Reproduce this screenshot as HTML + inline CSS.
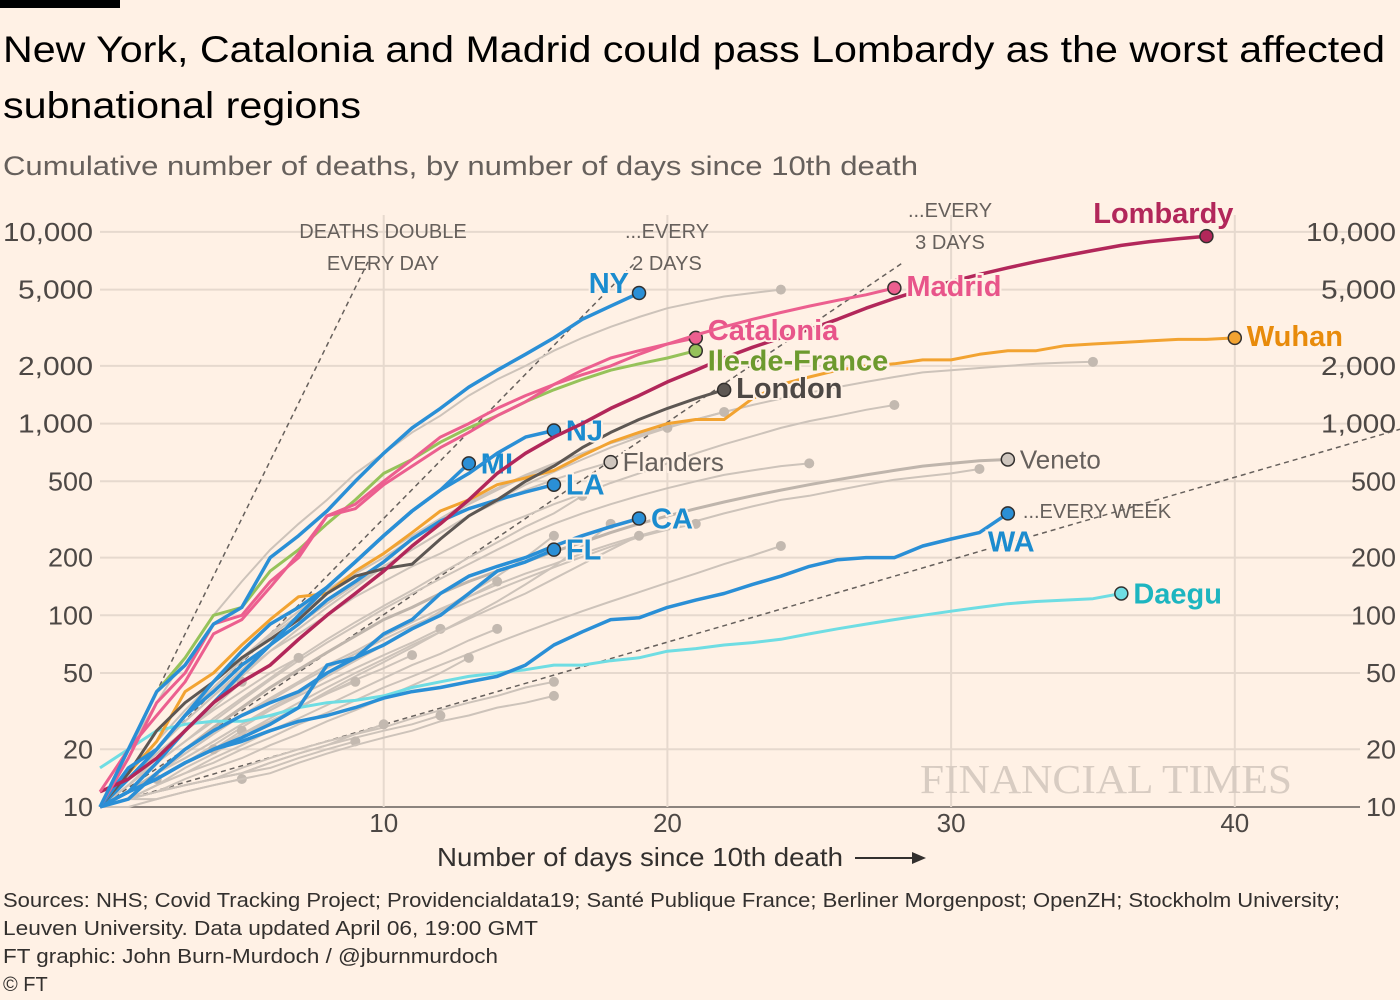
<!DOCTYPE html>
<html><head><meta charset="utf-8"><style>
html,body{margin:0;padding:0;background:#fff1e5;}
body{width:1400px;height:1000px;overflow:hidden;position:relative;font-family:"Liberation Sans","DejaVu Sans",sans-serif;color:#33302e;}
svg{position:absolute;left:0;top:0;}
</style></head><body>
<svg id="chart" width="1400" height="1000" viewBox="0 0 1400 1000">
<rect x="0" y="0" width="120" height="8" fill="#000"/>
<text font-size="37" fill="#000" x="3" y="62" textLength="1382" lengthAdjust="spacingAndGlyphs">New York, Catalonia and Madrid could pass Lombardy as the worst affected</text>
<text font-size="37" fill="#000" x="3" y="118" textLength="358" lengthAdjust="spacingAndGlyphs">subnational regions</text>
<text font-size="27" fill="#66605c" x="3" y="175" textLength="915" lengthAdjust="spacingAndGlyphs">Cumulative number of deaths, by number of days since 10th death</text>
<g id="grid"></g>
<text x="920" y="793" font-family="Liberation Serif,serif" font-size="41" fill="#d8ccc2" textLength="372" lengthAdjust="spacingAndGlyphs">FINANCIAL TIMES</text>
<g id="refs"></g>
<g id="greys"></g>
<g id="series"></g>
<text x="437" y="866" font-size="26" fill="#33302e" textLength="406" lengthAdjust="spacingAndGlyphs">Number of days since 10th death</text>
<line x1="855" y1="858" x2="918" y2="858" stroke="#33302e" stroke-width="2"/>
<path d="M912,852 L926,858 L912,864 Z" fill="#33302e"/>
<g font-size="20" fill="#33302e">
<text x="3" y="907" textLength="1337" lengthAdjust="spacingAndGlyphs">Sources: NHS; Covid Tracking Project; Providencialdata19; Santé Publique France; Berliner Morgenpost; OpenZH; Stockholm University;</text>
<text x="3" y="935" textLength="535" lengthAdjust="spacingAndGlyphs">Leuven University. Data updated April 06, 19:00 GMT</text>
<text x="3" y="963" textLength="495" lengthAdjust="spacingAndGlyphs">FT graphic: John Burn-Murdoch / @jburnmurdoch</text>
<text x="3" y="991">© FT</text>
</g>
</svg>
<script>
const NS='http://www.w3.org/2000/svg';
const yTicks=[10,20,50,100,200,500,1000,2000,5000,10000];
const yTickLabels=['10','20','50','100','200','500','1,000','2,000','5,000','10,000'];
const xTicks=[10,20,30,40];
const refDoublings=[1,2,3,7];
const refLabels=[['DEATHS DOUBLE','EVERY DAY'],['...EVERY','2 DAYS'],['...EVERY','3 DAYS'],['...EVERY WEEK']];
const nyValues=[10,20,40,55,90,110,200,260,350,500,700,950,1200,1550,1900,2300,2800,3500,4100,4800];
const lombardyValues=[12,14,18,25,35,45,55,75,100,130,170,230,300,400,550,700,850,1000,1200,1400,1650,1900,2200,2500,2800,3100,3500,4000,4500,5000,5500,6000,6500,7000,7500,8000,8500,8900,9200,9500];
const madridValues=[10,18,35,50,90,100,150,200,330,380,500,650,850,1000,1200,1400,1600,1800,2000,2300,2600,2900,3200,3500,3800,4100,4400,4700,5100];
const cataloniaValues=[12,20,30,45,80,95,140,210,330,360,480,600,750,900,1100,1300,1600,1900,2200,2400,2600,2800];
const ileValues=[10,20,40,60,100,110,170,220,300,400,550,650,800,950,1100,1300,1500,1700,1900,2050,2200,2400];
const londonValues=[10,15,25,35,45,60,75,95,130,160,175,185,250,330,400,500,600,750,900,1050,1200,1350,1500];
const wuhanValues=[10,15,22,40,50,70,95,125,130,170,210,270,350,400,480,520,570,680,800,900,1000,1050,1050,1350,1600,1750,1900,2000,2050,2150,2150,2300,2400,2400,2550,2600,2650,2700,2750,2750,2800];
const miValues=[10,12,17,25,35,50,70,100,140,190,260,350,450,620];
const njValues=[10,16,20,30,45,65,90,110,140,190,260,350,450,550,700,850,920];
const laValues=[10,14,20,30,40,55,70,90,120,150,190,250,310,360,400,440,480];
const flValues=[10,12,14,17,20,23,27,33,55,60,70,85,100,130,170,190,220];
const caValues=[10,11,15,20,25,30,35,40,50,60,80,95,130,160,180,200,230,260,290,320];
const waValues=[10,12,14,17,20,22,25,28,30,33,37,40,42,45,48,55,70,82,95,97,110,120,130,145,160,180,195,200,200,230,250,270,340];
const daeguValues=[16,20,25,27,28,28,30,33,35,36,38,42,45,48,50,52,55,55,58,60,65,67,70,72,75,80,85,90,95,100,105,110,115,118,120,122,130];
const venetoValues=[10,12,15,20,26,33,42,52,64,78,95,110,130,150,170,190,215,240,270,300,330,360,390,420,450,480,510,540,570,600,620,640,650];
const flandersValues=[10,14,20,28,38,52,70,90,115,145,180,220,270,330,390,450,510,570,630];
const greySeries=[
[10,20,35,60,100,150,220,300,400,550,700,900,1100,1400,1700,2000,2400,2800,3200,3600,4000,4300,4600,4800,5000],
[10,13,18,25,35,48,65,85,110,140,180,220,270,330,400,480,560,650,750,850,950,1050,1150,1250,1350,1450,1550,1650,1750,1850,1900,1950,2000,2050,2080,2100],
[10,14,20,28,38,50,65,80,100,125,150,180,210,250,290,330,380,430,490,550,620,700,780,860,950,1030,1100,1180,1250],
[10,15,22,32,45,60,80,105,135,170,210,260,320,390,460,540,620,700,790,880,960,1050,1150],
[10,14,20,30,42,58,78,100,130,165,200,250,310,380,450,530,610,700,790,870,950],
[10,12,15,19,24,30,37,45,55,65,78,92,108,125,145,165,185,210,235,260,285,310,340,370,400,420,450,480,510,530,550,580],
[10,13,17,22,28,36,46,58,72,88,108,130,155,185,220,260,300,340,380,420,460,500,540,570,600,620],
[10,12,15,19,24,30,36,44,53,63,75,88,102,118,136,156,178,202,228,256,280,300],
[10,11,13,15,17,20,23,27,31,36,42,48,55,63,72,82,93,105,118,132,148,165,185,205,230],
[10,13,17,22,29,37,47,60,75,92,112,135,165,200,240,290,340,420],
[10,12,15,18,22,27,33,40,48,58,70,85,105,130,160,200,260],
[10,11,13,16,19,23,28,33,40,48,57,68,82,98,118,145,180,230,300],
[10,12,14,17,21,26,32,39,48,58,70,85,100,125,150],
[10,11,13,15,18,21,25,29,34,40,47,55,63,74,85],
[10,12,15,18,22,27,32,38,45,53,62,72,85],
[10,12,14,17,20,24,28,33,39,46,53,62],
[10,11,12,14,16,18,21,24,28,32,37,43,50,60],
[10,12,14,17,20,24,28,33,39,45],
[10,11,12,13,14,16,18,20,22,24,26,29,32,35,38,42,45],
[10,11,12,13,14,15,17,19,21,23,25,27,30],
[10,11,12,13,14,15,17,19,21,24,27],
[10,11,12,13,14,15,16,18,20,22],
[10,12,14,17,20,25],[10,11,11,12,13,14],[10,12,14,17,20],[10,12,14],
[10,14,19,25,32,40,50,60],[10,14,19,25,33,45],
[10,10,11,12,13,14,15,17,19,21,23,25,28,30,33,35,38],
[10,12,14,17,20,24,29,35,42,50,59,70,82,96,112,130,155,185,220,260]
];
const X=d=>100+d*28.37;
const Y=v=>807-(Math.log10(v)-1)*191.7;
function mk(tag,attrs,parent){const e=document.createElementNS(NS,tag);for(const k in attrs)e.setAttribute(k,attrs[k]);parent.appendChild(e);return e;}
const grid=document.getElementById('grid');
yTicks.forEach((t,i)=>{
  const l=mk('line',{x1:100,x2:1360,y1:Y(t),y2:Y(t),stroke:t===10?'#66605c':'#e6d9ce','stroke-width':t===10?1.5:2},grid);
  
  
  const w=yTickLabels[i].length*15;
  const a=mk('text',{x:93,y:Y(t)+9,'text-anchor':'end','font-size':26,fill:'#4d4845',textLength:w,lengthAdjust:'spacingAndGlyphs'},grid);a.textContent=yTickLabels[i];
  
  
  const b=mk('text',{x:1396,y:Y(t)+9,'text-anchor':'end','font-size':26,fill:'#4d4845',textLength:w,lengthAdjust:'spacingAndGlyphs'},grid);b.textContent=yTickLabels[i];
  
  
});
xTicks.forEach(t=>{
  const l=mk('line',{x1:X(t),x2:X(t),y1:215,y2:807,stroke:'#e6d9ce','stroke-width':2},grid);
  
  
  const a=mk('text',{x:X(t),y:832,'text-anchor':'middle','font-size':26,fill:'#4d4845'},grid);a.textContent=t;
  
  
});
const refs=document.getElementById('refs');
const refLabelPos=[[383,238],[667,238],[950,217],[1097,518]];
refDoublings.forEach((k,i)=>{
  let d=Math.log2(697)*k;
  d=Math.min(d,(1400-100)/28.37);
  const yEnd=Y(10*Math.pow(2,d/k));
  const l=mk('line',{x1:X(0),y1:Y(10),x2:X(d),y2:yEnd,stroke:'#66605c','stroke-width':1.5,'stroke-dasharray':'5,4'},refs);
  
  
  refLabels[i].forEach((s,j)=>{
    const t=mk('text',{x:refLabelPos[i][0],y:refLabelPos[i][1]+j*32,'text-anchor':'middle','font-size':20,fill:'#66605c'},refs);t.textContent=s;
    
    
  });
});
function pathOf(vals){return vals.map((v,i)=>(i?'L':'M')+X(i).toFixed(1)+','+Y(v).toFixed(1)).join(' ');}
const greys=document.getElementById('greys');
greySeries.forEach(vals=>{
  const p=mk('path',{d:pathOf(vals),fill:'none',stroke:'#cdc3ba','stroke-width':2},greys);
  
  
  const n=vals.length-1;
  const c=mk('circle',{cx:X(n),cy:Y(vals[n]),r:5,fill:'#c3b9b0'},greys);
  
  
});
const ser=document.getElementById('series');
const defs=[
 {v:venetoValues,c:'#bfb5ac',t:'#66605c',name:'Veneto',w:3,bold:false,dx:12,dy:9},
 {v:flandersValues,c:'#cdc3ba',t:'#66605c',name:'Flanders',w:2,bold:false,dx:12,dy:9},
 {v:daeguValues,c:'#6fdde3',t:'#1db5c0',name:'Daegu',w:3,dx:12,dy:10},
 {v:waValues,c:'#2a8fd6',t:'#1b8ccf',name:'WA',w:3.5,dx:-20,dy:38},
 {v:caValues,c:'#2a8fd6',t:'#1b8ccf',name:'CA',w:3.5,dx:12,dy:10},
 {v:flValues,c:'#2a8fd6',t:'#1b8ccf',name:'FL',w:3.5,dx:12,dy:10},
 {v:laValues,c:'#2a8fd6',t:'#1b8ccf',name:'LA',w:3.5,dx:12,dy:10},
 {v:wuhanValues,c:'#f2a331',t:'#e88b0b',name:'Wuhan',w:3,dx:12,dy:8},
 {v:londonValues,c:'#5d5753',t:'#4d4845',name:'London',w:3,dx:12,dy:8},
 {v:miValues,c:'#2a8fd6',t:'#1b8ccf',name:'MI',w:3.5,dx:12,dy:10},
 {v:njValues,c:'#2a8fd6',t:'#1b8ccf',name:'NJ',w:3.5,dx:12,dy:10},
 {v:lombardyValues,c:'#b2275a',t:'#b2275a',name:'Lombardy',w:3.5,dx:27,dy:-13,anchor:'end'},
 {v:ileValues,c:'#96c25a',t:'#6d9a2e',name:'Ile-de-France',w:3,dx:12,dy:20},
 {v:cataloniaValues,c:'#ec5f8f',t:'#e8558a',name:'Catalonia',w:3,dx:12,dy:2},
 {v:madridValues,c:'#ec5f8f',t:'#e8558a',name:'Madrid',w:3,dx:12,dy:8},
 {v:nyValues,c:'#2a8fd6',t:'#1b8ccf',name:'NY',w:3.5,dx:-10,dy:0,anchor:'end'}
];
defs.forEach(s=>{
  const slug=s.name.toLowerCase().replace(/[^a-z]+/g,'-');
  const p=mk('path',{d:pathOf(s.v),fill:'none',stroke:s.c,'stroke-width':s.w,'stroke-linejoin':'round'},ser);
  
  
  const n=s.v.length-1,cx=X(n),cy=Y(s.v[n]);
  const c=mk('circle',{cx:cx,cy:cy,r:6.5,fill:s.name==='Veneto'||s.name==='Flanders'?'#cfc6be':s.c,stroke:'#33302e','stroke-width':1.5},ser);
  
  
  const t=mk('text',{x:cx+s.dx,y:cy+s.dy,'font-size':s.bold===false?26:29,'font-weight':s.bold===false?'normal':'bold',fill:s.t,'text-anchor':s.anchor||'start',stroke:'#fff1e5','stroke-width':4,'paint-order':'stroke'},ser);
  t.textContent=s.name;
  
  
});
</script>
</body></html>
